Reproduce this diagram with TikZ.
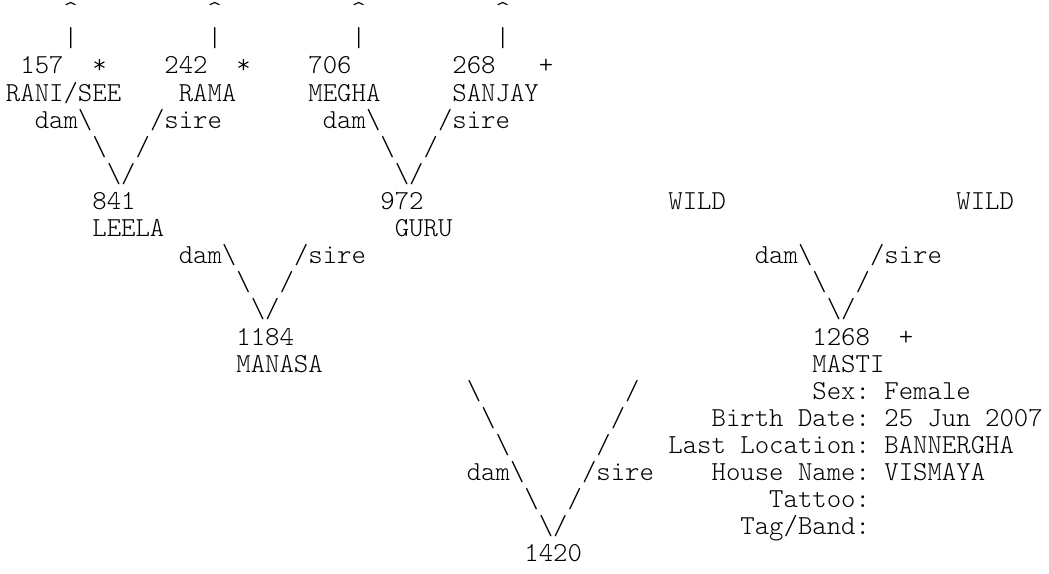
\documentclass[tikz,border=0pt]{standalone}
\usepackage{fontspec}
\newfontfamily\pedfont{lmmonolt10-regular.otf}
\newcommand{\bs}{\textbackslash}
\frenchspacing
\begin{document}
\begin{tikzpicture}[cell/.style={anchor=base west,inner sep=0pt,outer sep=0pt,
    font=\pedfont\fontsize{20.57pt}{24pt}\selectfont\frenchspacing}]
  \fill[white] (0,0) rectangle (786.75pt,-430.5pt);
  \useasboundingbox (0,0) rectangle (786.75pt,-430.5pt);
  \begin{scope}[x=10.8pt,y=-20.325pt,shift={(4.5pt,5.475pt)}]
    % great-grandparents
    \node[cell] (up1) at (4,1) {\textasciicircum};
    \node[cell] (up2) at (14,1) {\textasciicircum};
    \node[cell] (up3) at (24,1) {\textasciicircum};
    \node[cell] (up4) at (34,1) {\textasciicircum};
    \node[cell] (bar1) at (4,2) {|};
    \node[cell] (bar2) at (14,2) {|};
    \node[cell] (bar3) at (24,2) {|};
    \node[cell] (bar4) at (34,2) {|};
    \node[cell] (id157) at (1,3) {157};
    \node[cell] (mk157) at (6,3) {*};
    \node[cell] (id242) at (11,3) {242};
    \node[cell] (mk242) at (16,3) {*};
    \node[cell] (id706) at (21,3) {706};
    \node[cell] (id268) at (31,3) {268};
    \node[cell] (mk268) at (37,3) {+};
    \node[cell] (rani) at (0,4) {RANI/SEE};
    \node[cell] (rama) at (12,4) {RAMA};
    \node[cell] (megha) at (21,4) {MEGHA};
    \node[cell] (sanjay) at (31,4) {SANJAY};
    % links to grandparents
    \node[cell] (damA) at (2,5) {dam\bs};
    \node[cell] (sireA) at (10,5) {/sire};
    \node[cell] (damB) at (22,5) {dam\bs};
    \node[cell] (sireB) at (30,5) {/sire};
    \node[cell] (dlA) at (6,6) {\bs};
    \node[cell] (slA) at (9,6) {/};
    \node[cell] (dlB) at (26,6) {\bs};
    \node[cell] (slB) at (29,6) {/};
    \node[cell] (vA) at (7,7) {\bs/};
    \node[cell] (vB) at (27,7) {\bs/};
    % grandparents
    \node[cell] (id841) at (6,8) {841};
    \node[cell] (id972) at (26,8) {972};
    \node[cell] (wild1) at (46,8) {WILD};
    \node[cell] (wild2) at (66,8) {WILD};
    \node[cell] (leela) at (6,9) {LEELA};
    \node[cell] (guru) at (27,9) {GURU};
    % links to parents
    \node[cell] (damC) at (12,10) {dam\bs};
    \node[cell] (sireC) at (20,10) {/sire};
    \node[cell] (damD) at (52,10) {dam\bs};
    \node[cell] (sireD) at (60,10) {/sire};
    \node[cell] (dlC) at (16,11) {\bs};
    \node[cell] (slC) at (19,11) {/};
    \node[cell] (dlD) at (56,11) {\bs};
    \node[cell] (slD) at (59,11) {/};
    \node[cell] (vC) at (17,12) {\bs/};
    \node[cell] (vD) at (57,12) {\bs/};
    % parents
    \node[cell] (id1184) at (16,13) {1184};
    \node[cell] (id1268) at (56,13) {1268};
    \node[cell] (mk1268) at (62,13) {+};
    \node[cell] (manasa) at (16,14) {MANASA};
    \node[cell] (masti) at (56,14) {MASTI};
    % links to the animal
    \node[cell] (dl1) at (32,15) {\bs};
    \node[cell] (sl1) at (43,15) {/};
    \node[cell] (dl2) at (33,16) {\bs};
    \node[cell] (sl2) at (42,16) {/};
    \node[cell] (dl3) at (34,17) {\bs};
    \node[cell] (sl3) at (41,17) {/};
    \node[cell] (damE) at (32,18) {dam\bs};
    \node[cell] (sireE) at (40,18) {/sire};
    \node[cell] (dl4) at (36,19) {\bs};
    \node[cell] (sl4) at (39,19) {/};
    \node[cell] (vE) at (37,20) {\bs/};
    \node[cell] (id1420) at (36,21) {1420};
    % details
    \node[cell] (sex) at (56,15) {Sex: Female};
    \node[cell] (birth) at (49,16) {Birth Date: 25 Jun 2007};
    \node[cell] (loc) at (46,17) {Last Location: BANNERGHA};
    \node[cell] (house) at (49,18) {House Name: VISMAYA};
    \node[cell] (tattoo) at (53,19) {Tattoo:};
    \node[cell] (tag) at (51,20) {Tag/Band:};
  \end{scope}
\end{tikzpicture}
\end{document}
